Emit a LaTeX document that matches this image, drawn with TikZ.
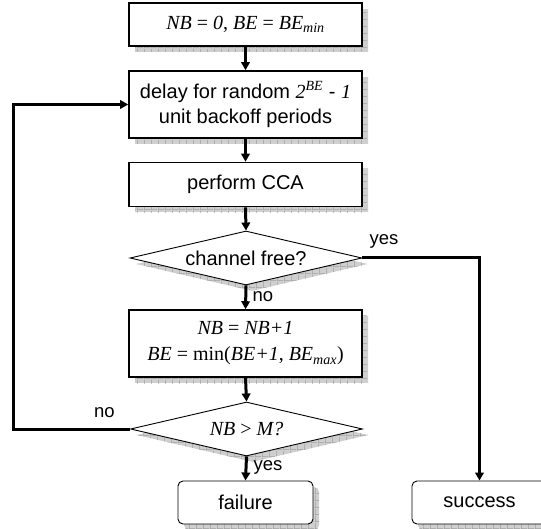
\documentclass[tikz,border=0pt]{standalone}
\usepackage{fontspec}
\setmainfont{Liberation Sans}
\newfontfamily\mathser{Liberation Serif}
\usetikzlibrary{shapes.geometric,shadows,arrows.meta,patterns.meta}
\tikzdeclarepattern{
  name=shgrid, type=uncolored,
  bounding box={(0pt,0pt) and (6.5pt,6.5pt)},
  tile size={(6.5pt,6.5pt)},
  code={\draw[line width=0.7pt] (0pt,0.35pt) -- (6.5pt,0.35pt) (0.35pt,0pt) -- (0.35pt,6.5pt);}
}
\begin{document}
\begin{tikzpicture}[x=1pt,y=-1pt,
  shad/.style={drop shadow={shadow xshift=6pt,shadow yshift=-6pt,fill=gray!38,opacity=1},
               drop shadow={shadow xshift=6pt,shadow yshift=-6pt,pattern=shgrid,pattern color=gray!75,opacity=1}},
  box/.style={shad, draw, fill=white, line width=1.6pt, minimum width=233pt, inner sep=0pt,
              font=\fontsize{20}{25}\selectfont, align=center},
  dec/.style={shad, diamond, draw, fill=white, line width=0.9pt, minimum width=232pt,
              minimum height=54pt, aspect=4.3, inner sep=0pt, font=\fontsize{20}{25}\selectfont},
  term/.style={shad, draw, fill=white, rounded corners=5pt, line width=0.9pt, minimum width=135pt,
               minimum height=43pt, inner sep=0pt, font=\fontsize{20}{25}\selectfont},
  conn/.style={line width=3pt, -{Triangle[length=8pt,width=8.5pt]}},
  lab/.style={font=\fontsize{18.5}{20}\selectfont, inner sep=0pt}
]
\useasboundingbox (0,0) rectangle (541,529);
\node[box, minimum height=43pt] (b1) at (245.5,24.5)
  {\mathser\textit{NB} = \textit{0}, \textit{BE} = \textit{BE}\textsubscript{\textit{min}}};
\node[box, minimum height=67pt] (b2) at (245.5,104.5)
  {delay for random {\mathser\textit{2}\textsuperscript{\textit{BE}}} - {\mathser\textit{1}}\\unit backoff periods};
\node[box, minimum height=44pt] (b3) at (245.5,184.5) {perform CCA};
\node[dec] (d1) at (246,258) {channel free?};
\node[box, minimum height=67pt, font=\fontsize{20}{26}\selectfont\mathser] (b4) at (245.5,343.5)
  {\textit{NB} = \textit{NB+1}\\\textit{BE} = min(\textit{BE+1}, \textit{BE}\textsubscript{\textit{max}})};
\node[dec, font=\fontsize{20}{25}\selectfont\mathser] (d2) at (246.5,429) {\textit{NB} {\textgreater} \textit{M?}};
\node[term] (fail) at (245.5,502.5) {failure};
\node[term] (succ) at (479.5,502.5) {success};
\coordinate (lp) at (13,429);
\draw[conn] (b1.south) -- (b2.north);
\draw[conn] (b2.south) -- (b3.north);
\draw[conn] (b3.south) -- (d1.north);
\draw[conn] (d1.south) -- (b4.north);
\draw[conn] (b4.south) -- (d2.north);
\draw[conn] (d2.south) -- (fail.north);
\draw[conn] (d1.east) -| (succ.north);
\draw[conn] (d2.west) -- (lp) |- (b2.west);
\node[lab] (yes1) at (384,241) {yes};
\node[lab] (no1) at (263,297) {no};
\node[lab] (no2) at (104.5,413) {no};
\node[lab] (yes2) at (268,467) {yes};
\end{tikzpicture}
\end{document}
